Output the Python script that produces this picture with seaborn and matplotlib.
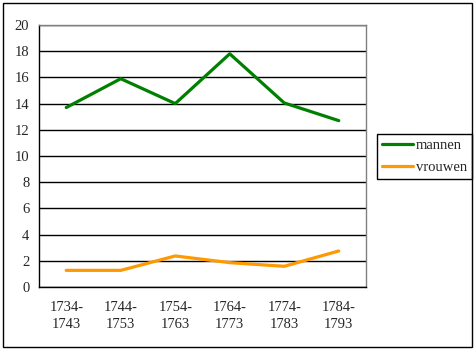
import seaborn as sns
import matplotlib.pyplot as plt
import pandas as pd
from matplotlib.patches import Rectangle

periods = ["1734-\n1743", "1744-\n1753", "1754-\n1763", "1764-\n1773", "1774-\n1783", "1784-\n1793"]
mannen = [13.7, 15.9, 14.0, 17.8, 14.05, 12.7]
vrouwen = [1.27, 1.27, 2.37, 1.86, 1.58, 2.75]

sns.set_style("white")
plt.rcParams['font.family'] = ['Liberation Serif', 'DejaVu Serif']
plt.rcParams['font.size'] = 10.5

df = pd.DataFrame({
    "pos": list(range(len(periods))) * 2,
    "value": mannen + vrouwen,
    "serie": ["mannen"] * len(periods) + ["vrouwen"] * len(periods),
})

fig = plt.figure(figsize=(4.76, 3.52), dpi=100)
ax = fig.add_axes([39 / 476, 65 / 352, 327 / 476, 262 / 352])

sns.lineplot(data=df, x="pos", y="value", hue="serie",
             palette={"mannen": "#008000", "vrouwen": "#FF9900"},
             linewidth=2.3, ax=ax)

ax.set_xlim(-0.5, len(periods) - 0.5)
ax.set_ylim(0, 20)
ax.set_yticks(range(0, 21, 2))
ax.set_xticks(range(len(periods)))
ax.set_xticklabels(periods, linespacing=1.45)
# tick marks sit between the categories, Excel style
ax.set_xticks([i - 0.5 for i in range(len(periods) + 1)], minor=True)
ax.tick_params(axis="x", which="major", length=0, pad=10)
ax.tick_params(axis="x", which="minor", length=4, width=1, color="black", direction="out")
ax.tick_params(axis="y", length=4, width=1, color="black", direction="out", pad=3)
ax.set_xlabel("")
ax.set_ylabel("")
ax.grid(axis="y", color="black", linewidth=1)
ax.set_axisbelow(True)
for s in ["left", "bottom"]:
    ax.spines[s].set_color("black")
    ax.spines[s].set_linewidth(1)
for s in ["top", "right"]:
    ax.spines[s].set_color("#808080")
    ax.spines[s].set_linewidth(1)

handles, labels = ax.get_legend_handles_labels()
leg = ax.legend(handles, labels, loc="upper left",
                bbox_to_anchor=(377 / 476, 1 - 134 / 352), bbox_transform=fig.transFigure,
                frameon=True, fancybox=False, edgecolor="black", framealpha=1,
                handlelength=2.1, handletextpad=0.2, borderpad=0.35, labelspacing=0.6,
                borderaxespad=0)
leg.get_frame().set_linewidth(1)

# outer chart border
fig.patches.append(Rectangle((3 / 476, 5 / 352), 469 / 476, 344 / 352, transform=fig.transFigure,
                             fill=False, edgecolor="black", linewidth=1))

fig.savefig("out.png", dpi=100)
